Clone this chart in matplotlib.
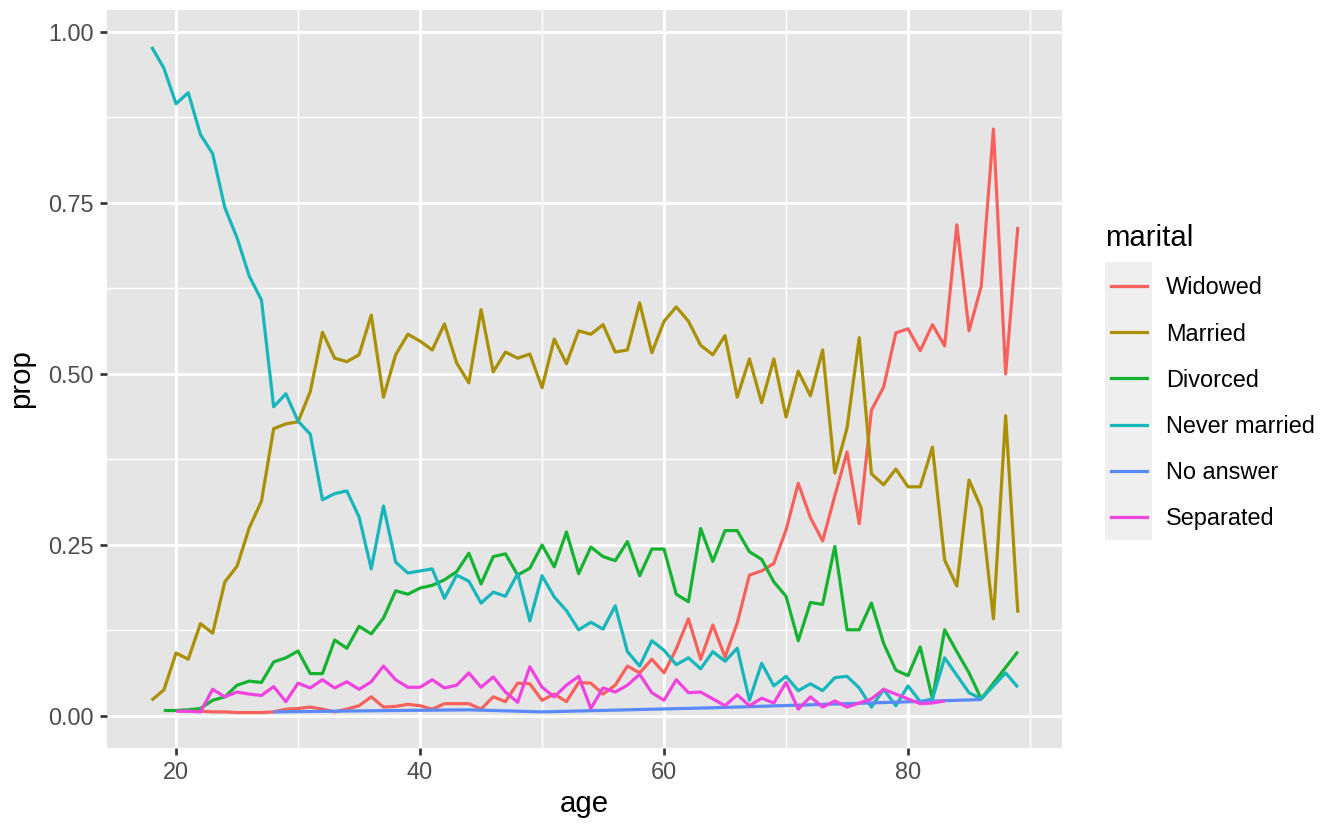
import matplotlib
matplotlib.use("Agg")
import matplotlib.pyplot as plt
from matplotlib.lines import Line2D
from matplotlib.patches import Rectangle

plt.rcParams['font.family'] = ['Liberation Sans', 'DejaVu Sans']

# data
ages_widowed = list(range(20, 90))
prop_widowed = [0.008, 0.007, 0.007, 0.006, 0.006, 0.005, 0.005, 0.005, 0.006, 0.010,
                0.011, 0.013, 0.010, 0.006, 0.010, 0.015, 0.028, 0.013, 0.014, 0.017,
                0.015, 0.010, 0.018, 0.018, 0.018, 0.010, 0.028, 0.021, 0.048, 0.047,
                0.023, 0.032, 0.021, 0.049, 0.048, 0.032, 0.045, 0.073, 0.063, 0.083,
                0.063, 0.098, 0.142, 0.083, 0.133, 0.086, 0.136, 0.206, 0.212, 0.223,
                0.272, 0.340, 0.290, 0.256, 0.322, 0.386, 0.281, 0.447, 0.481, 0.560,
                0.566, 0.534, 0.572, 0.541, 0.718, 0.563, 0.628, 0.858, 0.500, 0.715]

ages_married = list(range(18, 90))
prop_married = [0.023, 0.038, 0.092, 0.083, 0.135, 0.121, 0.196, 0.219, 0.275, 0.314,
                0.420, 0.427, 0.430, 0.474, 0.561, 0.523, 0.518, 0.528, 0.586, 0.466,
                0.528, 0.558, 0.548, 0.535, 0.573, 0.516, 0.487, 0.594, 0.503, 0.532,
                0.523, 0.529, 0.480, 0.551, 0.515, 0.563, 0.558, 0.572, 0.532, 0.535,
                0.604, 0.531, 0.577, 0.598, 0.577, 0.542, 0.528, 0.556, 0.466, 0.522,
                0.458, 0.522, 0.437, 0.504, 0.468, 0.535, 0.355, 0.421, 0.553, 0.354,
                0.338, 0.361, 0.335, 0.335, 0.393, 0.228, 0.190, 0.345, 0.304, 0.142,
                0.439, 0.151]

ages_divorced = list(range(19, 87)) + [89]
prop_divorced = [0.008, 0.008, 0.009, 0.011, 0.023, 0.028, 0.045, 0.051, 0.049, 0.079,
                 0.085, 0.095, 0.062, 0.062, 0.111, 0.099, 0.131, 0.120, 0.143, 0.183,
                 0.178, 0.187, 0.191, 0.199, 0.211, 0.238, 0.193, 0.233, 0.237, 0.206,
                 0.216, 0.250, 0.218, 0.269, 0.208, 0.247, 0.233, 0.227, 0.255, 0.205,
                 0.244, 0.244, 0.178, 0.167, 0.274, 0.226, 0.271, 0.271, 0.240, 0.229,
                 0.196, 0.175, 0.110, 0.166, 0.163, 0.248, 0.126, 0.126, 0.165, 0.106,
                 0.067, 0.059, 0.101, 0.025, 0.126, 0.094, 0.063, 0.025, 0.094]

ages_never = list(range(18, 84)) + [85, 86, 88, 89]
prop_never = [0.978, 0.947, 0.895, 0.911, 0.850, 0.822, 0.743, 0.699, 0.643, 0.608,
              0.452, 0.471, 0.431, 0.412, 0.316, 0.325, 0.329, 0.291, 0.215, 0.307,
              0.225, 0.209, 0.212, 0.215, 0.172, 0.206, 0.197, 0.165, 0.181, 0.175,
              0.208, 0.139, 0.205, 0.174, 0.154, 0.126, 0.137, 0.127, 0.161, 0.094,
              0.073, 0.110, 0.096, 0.075, 0.085, 0.069, 0.094, 0.080, 0.099, 0.023,
              0.077, 0.044, 0.058, 0.037, 0.047, 0.037, 0.056, 0.058, 0.041, 0.013,
              0.039, 0.015, 0.044, 0.021, 0.025, 0.085, 0.034, 0.025, 0.063, 0.042]

ages_noanswer = [28, 38, 44, 50, 64, 75, 86]
prop_noanswer = [0.006, 0.008, 0.009, 0.006, 0.012, 0.018, 0.024]

ages_separated = list(range(20, 79)) + [81, 82, 83]
prop_separated = [0.007, 0.007, 0.006, 0.039, 0.028, 0.035, 0.032, 0.030, 0.043, 0.021,
                  0.048, 0.041, 0.053, 0.041, 0.050, 0.039, 0.050, 0.073, 0.053, 0.042,
                  0.042, 0.053, 0.041, 0.045, 0.063, 0.042, 0.057, 0.035, 0.020, 0.072,
                  0.042, 0.028, 0.045, 0.058, 0.011, 0.041, 0.035, 0.045, 0.061, 0.034,
                  0.023, 0.053, 0.034, 0.035, 0.025, 0.015, 0.031, 0.015, 0.026, 0.019,
                  0.049, 0.010, 0.028, 0.013, 0.022, 0.013, 0.019, 0.025, 0.039,
                  0.018, 0.019, 0.022]

labels = ["Widowed", "Married", "Divorced", "Never married", "No answer", "Separated"]
colors = ["#F8625D", "#AA9000", "#16B332", "#17B6BB", "#5A8AFA", "#F043DF"]
series = [(ages_widowed, prop_widowed), (ages_married, prop_married),
          (ages_divorced, prop_divorced), (ages_never, prop_never),
          (ages_noanswer, prop_noanswer), (ages_separated, prop_separated)]

fig = plt.figure(figsize=(7, 830 / 192), dpi=192)
ax = fig.add_axes([107 / 1344, 1 - 748 / 830, (1062 - 107) / 1344, (748 - 10) / 830])
ax.set_facecolor("#E5E5E5")
for s in ax.spines.values():
    s.set_visible(False)

ax.set_xlim(14.34, 92.62)
ax.set_ylim(-0.0468, 1.032)
ax.set_xticks([20, 40, 60, 80])
ax.set_yticks([0, 0.25, 0.5, 0.75, 1.0])
ax.set_yticklabels(["0.00", "0.25", "0.50", "0.75", "1.00"])
ax.set_xticks([30, 50, 70, 90], minor=True)
ax.set_yticks([0.125, 0.375, 0.625, 0.875], minor=True)
ax.grid(which="major", color="white", linewidth=1.1)
ax.grid(which="minor", color="white", linewidth=0.55)
ax.set_axisbelow(True)
ax.tick_params(which="major", length=2.75, width=1.0, color="#333333",
               labelsize=8.8, labelcolor="#4D4D4D", pad=2.2)
ax.tick_params(which="minor", length=0)

for (x, y), c in zip(series, colors):
    ax.plot(x, y, color=c, linewidth=1.2, solid_capstyle="butt")

ax.set_xlabel("age", fontsize=11, labelpad=2)
ax.set_ylabel("prop", fontsize=11, labelpad=5)

# legend drawn like ggplot's guide
fig.text(1105 / 1344, 1 - 238 / 830, "marital", fontsize=11, va="center", ha="left")
fig.patches.append(Rectangle((1105 / 1344, 1 - 540 / 830), 47 / 1344, 278 / 830,
                             transform=fig.transFigure, facecolor="#EFEFEF",
                             edgecolor="none"))
for i, (lab, c) in enumerate(zip(labels, colors)):
    yc = 1 - (286 + 46.2 * i) / 830
    fig.lines.append(Line2D([1111 / 1344, 1147 / 1344], [yc, yc], transform=fig.transFigure,
                            color=c, linewidth=1.2))
    fig.text(1166 / 1344, yc - 2 / 830, lab, fontsize=8.8, va="center", ha="left")

fig.savefig("out.png", dpi=192)
